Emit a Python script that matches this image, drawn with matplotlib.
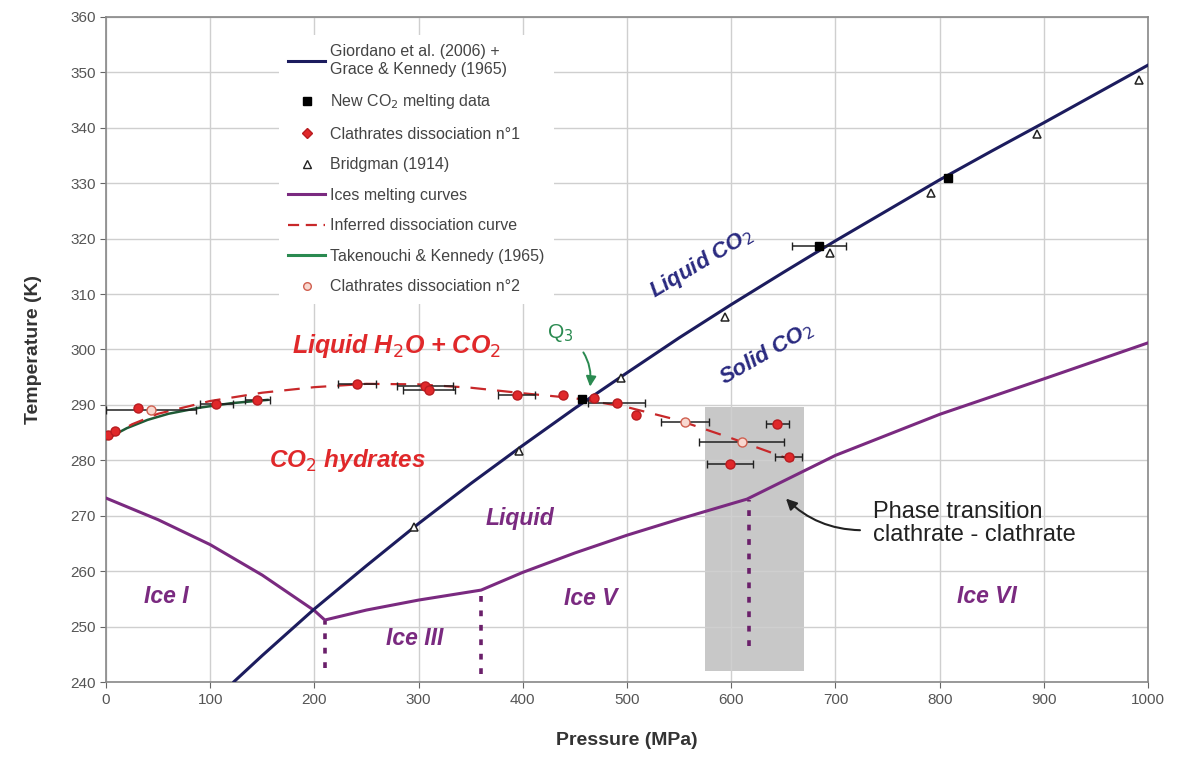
import matplotlib
matplotlib.use("Agg")
import matplotlib.pyplot as plt
from matplotlib.lines import Line2D
from matplotlib.patches import Rectangle

plt.rcParams['font.family'] = ['Liberation Sans', 'DejaVu Sans']

# ---------------- data ----------------
# CO2 melting curve (Giordano et al. 2006 + Grace & Kennedy 1965)
co2_p = [123, 150, 200, 250, 300, 350, 400, 450, 500, 550, 600, 650, 700, 750, 800, 850, 900, 950, 1000]
co2_t = [240.1, 244.8, 253.2, 261.0, 268.6, 275.8, 282.7, 289.4, 295.8, 302.1, 308.1, 313.9,
         319.6, 325.1, 330.6, 335.8, 340.9, 346.1, 351.3]

# New CO2 melting data
new_p = [457, 684, 808]
new_t = [291.1, 318.6, 331.0]
new_xerr = [0, 26, 0]

# Bridgman (1914)
bri_p = [296, 396, 494, 594, 695, 792, 893, 991]
bri_t = [268.0, 281.7, 294.8, 305.9, 317.4, 328.2, 338.9, 348.6]

# Ices melting curves
ice_p = [0, 50, 100, 150, 200, 210, 250, 300, 360, 400, 450, 500, 550, 615, 700, 800, 900, 1000]
ice_t = [273.2, 269.3, 264.8, 259.3, 252.9, 251.2, 253.0, 254.8, 256.6, 259.8, 263.3, 266.5,
         269.4, 273.0, 280.9, 288.3, 294.7, 301.2]

# Ice phase boundaries (dotted verticals)
bound_p = [210, 360, 617]
bound_top = [251.0, 256.5, 272.9]
bound_bot = [242.5, 241.5, 246.5]

# Clathrates dissociation n°1
c1_p = [2, 9, 31, 106, 145, 241, 306, 310, 394, 439, 468, 490, 509, 599, 644, 655]
c1_t = [284.5, 285.3, 289.5, 290.2, 290.8, 293.8, 293.4, 292.6, 291.8, 291.8, 291.3, 290.3,
        288.1, 279.4, 286.6, 280.6]
c1_xerr = [0, 0, 0, 16, 12, 18, 27, 25, 18, 0, 0, 27, 0, 22, 11, 13]

# Clathrates dissociation n°2
c2_p = [43, 556, 610]
c2_t = [289.0, 286.9, 283.3]
c2_xerr = [43, 23, 41]

# Inferred dissociation curve
dis_p = [0, 25, 50, 100, 150, 200, 250, 300, 350, 400, 450, 500, 550, 600, 650, 660]
dis_t = [283.8, 286.5, 288.4, 290.7, 292.2, 293.2, 293.8, 293.7, 293.1, 292.1, 291.2, 289.6,
         287.2, 284.0, 280.6, 280.0]

# Takenouchi & Kennedy (1965)
tk_p = [0, 20, 40, 60, 90, 120, 155]
tk_t = [283.8, 285.8, 287.3, 288.4, 289.5, 290.3, 290.9]

# Shaded region (clathrate - clathrate transition)
box_p = [575, 670]
box_t = [242, 289.7]

x_ticks = list(range(0, 1001, 100))
y_ticks = list(range(240, 361, 10))

# ---------------- colours ----------------
NAVY = '#1c1c5e'
PURPLE = '#7a2a80'
RED = '#e0282a'
GREEN = '#2a8a50'

fig = plt.figure(figsize=(11.77, 7.63), dpi=100)
ax = fig.add_axes([0.090, 0.106, 0.8855, 0.872])

ax.add_patch(Rectangle((box_p[0], box_t[0]), box_p[1] - box_p[0], box_t[1] - box_t[0],
                       facecolor='#c8c8c8', edgecolor='none', zorder=0.3))

ax.plot(ice_p, ice_t, color=PURPLE, lw=2.2, zorder=3)
for p, t1, t0 in zip(bound_p, bound_top, bound_bot):
    ax.plot([p, p], [t0, t1], color='#6a1f6a', lw=2.6, ls=(0, (1.6, 2.4)), zorder=3)

ax.plot(co2_p, co2_t, color=NAVY, lw=2.2, zorder=4)
ax.plot(tk_p, tk_t, color='#1f5a36', lw=1.8, zorder=3)
ax.plot(dis_p, dis_t, color='#c8282a', lw=1.6, ls=(0, (7, 5)), zorder=3)

ax.errorbar(c1_p, c1_t, xerr=c1_xerr, fmt='o', ms=6.5, mfc=RED, mec='#b81c20',
            ecolor='#202020', elinewidth=1.1, capsize=3, zorder=5)
ax.errorbar(c2_p, c2_t, xerr=c2_xerr, fmt='o', ms=6.5, mfc='#f8d8d0', mec='#d06050',
            ecolor='#202020', elinewidth=1.1, capsize=3, zorder=5)
ax.errorbar(new_p, new_t, xerr=new_xerr, fmt='s', ms=6, mfc='black', mec='black',
            ecolor='#202020', elinewidth=1.1, capsize=3, zorder=6)
ax.plot(bri_p, bri_t, '^', ms=6, mfc='white', mec='#222222', mew=1.1, ls='none', zorder=6)

ax.set_xlim(0, 1000)
ax.set_ylim(240, 360)
ax.set_xticks(x_ticks)
ax.set_yticks(y_ticks)
ax.tick_params(labelsize=11, colors='#666666', length=4, labelcolor='#555555')
ax.grid(True, color='#cfcfcf', lw=1.0)
ax.set_axisbelow(True)
for s in ax.spines.values():
    s.set_color('#888888')
    s.set_linewidth(1.2)

ax.set_xlabel('Pressure (MPa)', fontsize=14, fontweight='bold', color='#333333', labelpad=18)
ax.set_ylabel('Temperature (K)', fontsize=14, fontweight='bold', color='#333333', labelpad=20)

# region labels
lab = dict(fontweight='bold', style='italic', ha='center', va='center')
ax.text(279, 300.7, 'Liquid H$_2$O + CO$_2$', color=RED, fontsize=18, **lab)
ax.text(232, 280.0, 'CO$_2$ hydrates', color=RED, fontsize=17.5, **lab)
ax.text(572, 315.5, 'Liquid CO$_2$', color='#2a2a80', fontsize=16, rotation=31,
        rotation_mode='anchor', **lab)
ax.text(634, 299.3, 'Solid CO$_2$', color='#2a2a80', fontsize=16, rotation=30,
        rotation_mode='anchor', **lab)
ax.text(397, 269.5, 'Liquid', color=PURPLE, fontsize=16.5, **lab)
ax.text(58, 255.5, 'Ice I', color=PURPLE, fontsize=16.5, **lab)
ax.text(296, 247.8, 'Ice III', color=PURPLE, fontsize=16.5, **lab)
ax.text(465, 255.0, 'Ice V', color=PURPLE, fontsize=16.5, **lab)
ax.text(845, 255.5, 'Ice VI', color=PURPLE, fontsize=16.5, **lab)

ax.annotate('Q$_3$', xy=(464.5, 293.3), xytext=(436, 303.0), color=GREEN, fontsize=15,
            ha='center', va='center',
            arrowprops=dict(arrowstyle='-|>', color=GREEN, lw=1.4,
                            connectionstyle='arc3,rad=-0.35', shrinkA=8, shrinkB=0))
ax.text(736, 268.6, 'Phase transition\nclathrate - clathrate', color='#222222', fontsize=17,
        ha='left', va='center', linespacing=1.05)
ax.annotate('', xy=(652.5, 273.1), xytext=(723.5, 267.4),
            arrowprops=dict(arrowstyle='-|>', color='#222222', lw=1.5, mutation_scale=16,
                            connectionstyle='arc3,rad=-0.2', shrinkA=0, shrinkB=0))

handles = [
    Line2D([], [], color=NAVY, lw=2.2),
    Line2D([], [], marker='s', color='black', ls='none', ms=6),
    Line2D([], [], marker='D', color=RED, mec='#b81c20', ls='none', ms=5),
    Line2D([], [], marker='^', mfc='white', mec='#222222', ls='none', ms=6),
    Line2D([], [], color=PURPLE, lw=2.2),
    Line2D([], [], color='#c8282a', lw=1.6, ls=(0, (5, 3))),
    Line2D([], [], color=GREEN, lw=2.2),
    Line2D([], [], marker='o', mfc='#f8d8d0', mec='#d06050', ls='none', ms=5.5),
]
labels = [
    'Giordano et al. (2006) +\nGrace & Kennedy (1965)',
    'New CO$_2$ melting data',
    'Clathrates dissociation n°1',
    'Bridgman (1914)',
    'Ices melting curves',
    'Inferred dissociation curve',
    'Takenouchi & Kennedy (1965)',
    'Clathrates dissociation n°2',
]
leg = ax.legend(handles, labels, loc='upper left', bbox_to_anchor=(0.158, 0.985),
                fontsize=11.5, frameon=True, framealpha=1, edgecolor='none',
                facecolor='white', labelspacing=0.97, handlelength=2.3,
                handletextpad=0.35, borderpad=0.6, fancybox=False)
for t in leg.get_texts():
    t.set_color('#444444')
leg.set_zorder(2)

fig.savefig('out.png', dpi=100, facecolor='white')
